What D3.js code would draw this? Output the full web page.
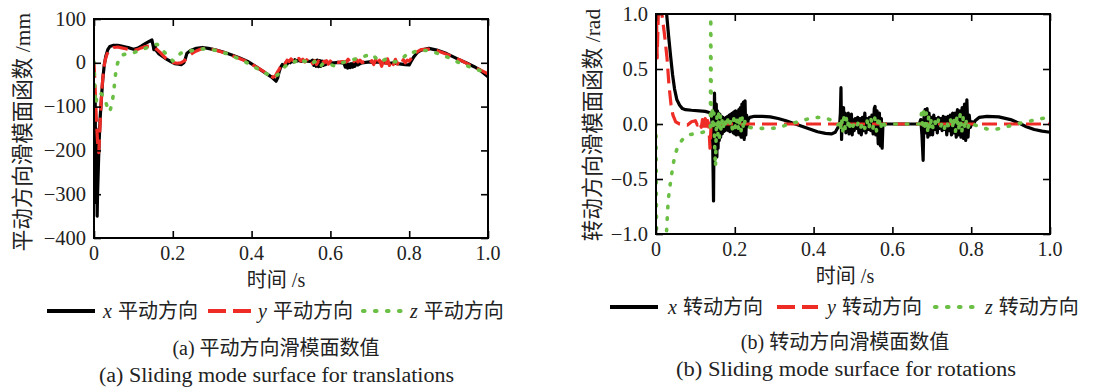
<!DOCTYPE html>
<html><head><meta charset="utf-8">
<script src="https://cdn.jsdelivr.net/npm/d3@7"></script>
<style>
body{margin:0;background:#fff}
svg text{font-family:'Liberation Serif','Noto Sans CJK SC',serif;fill:#222}
</style></head><body>
<svg id="c" width="1096" height="391"></svg>
<script>
// ---------- data ----------
const xTicks=[0,0.2,0.4,0.6,0.8,1.0];
const xTickLabels=["0","0.2","0.4","0.6","0.8","1.0"];
const transTicks=[100,0,-100,-200,-300,-400];
const transTickLabels=["100","0","−100","−200","−300","−400"];
const rotTicks=[1,0.5,0,-0.5,-1];
const rotTickLabels=["1.0","0.5","0.0","−0.5","−1.0"];
const transNames=["平动方向","平动方向","平动方向"];
const rotNames=["转动方向","转动方向","转动方向"];
const axisVars=["x","y","z"];

// translation sliding surface, x direction  [t (s), value (mm)]
const transX=[[0,-60],[0.002,-180],[0.003,-90],[0.004,-260],[0.005,-150],[0.006,-320],[0.007,-200],[0.008,-350],[0.009,-300],[0.011,-240],[0.013,-180],[0.016,-120],[0.019,-80],[0.022,-40],[0.026,-5],[0.03,15],[0.035,30],[0.04,37],[0.05,40],[0.06,40],[0.07,38],[0.08,36],[0.09,34],[0.1,31],[0.11,33],[0.12,38],[0.13,44],[0.14,49],[0.147,52],[0.15,40],[0.152,30],[0.155,38],[0.158,28],[0.165,20],[0.175,14],[0.185,8],[0.195,3],[0.205,-2],[0.215,-3],[0.222,-4],[0.228,0],[0.232,10],[0.236,22],[0.245,28],[0.26,33],[0.275,35],[0.29,33],[0.31,29],[0.33,24],[0.35,18],[0.37,11],[0.39,3],[0.41,-8],[0.43,-20],[0.45,-32],[0.462,-42],[0.466,-35],[0.47,-20],[0.474,-10],[0.478,-4],[0.482,-8],[0.486,0],[0.49,-3],[0.494,3],[0.498,0],[0.502,5],[0.506,2],[0.51,7],[0.515,4],[0.52,6],[0.525,3],[0.53,5],[0.54,4],[0.55,3],[0.555,6],[0.558,-6],[0.561,5],[0.564,-8],[0.567,6],[0.57,-9],[0.573,5],[0.576,-8],[0.579,4],[0.582,-6],[0.585,3],[0.588,-4],[0.592,1],[0.6,0],[0.61,0],[0.62,1],[0.63,0],[0.635,-2],[0.638,-10],[0.641,-2],[0.644,-12],[0.647,-3],[0.65,-11],[0.653,-2],[0.656,-10],[0.659,-1],[0.662,-8],[0.666,0],[0.67,-5],[0.675,-2],[0.68,0],[0.69,1],[0.7,2],[0.71,0],[0.72,2],[0.73,1],[0.74,0],[0.75,-1],[0.76,0],[0.77,-2],[0.78,-3],[0.79,-4],[0.8,-5],[0.806,5],[0.812,14],[0.82,23],[0.83,29],[0.85,33],[0.87,29],[0.895,21],[0.92,10],[0.947,-1],[0.965,-9],[0.98,-17],[1.0,-32]];
// translation sliding surface, y direction
const transY=[[0,0],[0.003,-60],[0.006,-130],[0.009,-180],[0.012,-205],[0.014,-170],[0.017,-110],[0.02,-60],[0.024,-20],[0.028,5],[0.033,20],[0.04,30],[0.05,35],[0.06,36],[0.07,34],[0.08,32],[0.09,30],[0.1,28],[0.11,30],[0.12,34],[0.13,37],[0.14,38],[0.15,36],[0.16,30],[0.17,22],[0.18,12],[0.19,5],[0.2,1],[0.21,-1],[0.22,0],[0.23,5],[0.24,15],[0.25,22],[0.26,27],[0.27,31],[0.28,33],[0.3,31],[0.32,26],[0.34,20],[0.36,13],[0.38,6],[0.4,-3],[0.42,-14],[0.44,-25],[0.455,-33],[0.46,-30],[0.465,-22],[0.47,-15],[0.475,-6],[0.48,2],[0.485,-2],[0.49,6],[0.495,3],[0.5,9],[0.505,5],[0.51,12],[0.515,6],[0.52,10],[0.525,4],[0.53,8],[0.535,2],[0.54,7],[0.545,0],[0.55,6],[0.555,-2],[0.56,5],[0.565,-4],[0.57,4],[0.575,-2],[0.58,6],[0.585,0],[0.59,5],[0.595,-3],[0.6,4],[0.605,-1],[0.61,3],[0.62,1],[0.63,3],[0.64,2],[0.645,8],[0.65,2],[0.655,9],[0.66,3],[0.665,8],[0.67,2],[0.675,6],[0.68,1],[0.69,3],[0.7,-2],[0.705,5],[0.71,-4],[0.715,8],[0.72,-6],[0.725,6],[0.73,-8],[0.735,7],[0.74,-5],[0.745,9],[0.75,-6],[0.755,6],[0.76,-4],[0.765,8],[0.77,-3],[0.775,5],[0.78,-2],[0.785,7],[0.79,0],[0.795,6],[0.8,4],[0.805,10],[0.81,18],[0.82,25],[0.83,30],[0.85,31],[0.87,28],[0.9,18],[0.93,6],[0.96,-8],[0.98,-16],[1.0,-25]];
// translation sliding surface, z direction
const transZ=[[0,2],[0.002,-60],[0.004,-95],[0.007,-80],[0.01,-70],[0.015,-68],[0.02,-72],[0.025,-78],[0.03,-90],[0.035,-105],[0.04,-112],[0.045,-95],[0.05,-68],[0.053,-38],[0.057,-10],[0.062,5],[0.07,17],[0.08,20],[0.09,21],[0.1,23],[0.11,26],[0.12,30],[0.13,33],[0.14,36],[0.15,40],[0.16,42],[0.168,38],[0.175,28],[0.185,18],[0.195,10],[0.2,4],[0.21,10],[0.22,22],[0.23,24],[0.24,26],[0.26,30],[0.28,32],[0.3,30],[0.32,26],[0.34,20],[0.36,12],[0.38,4],[0.4,-6],[0.42,-16],[0.44,-26],[0.455,-30],[0.465,-28],[0.47,-24],[0.475,-20],[0.48,-14],[0.485,-8],[0.49,-6],[0.495,-2],[0.5,0],[0.505,3],[0.51,2],[0.515,6],[0.52,4],[0.525,8],[0.53,5],[0.535,3],[0.54,5],[0.545,2],[0.55,4],[0.555,0],[0.56,3],[0.565,-4],[0.57,-2],[0.575,-8],[0.58,-3],[0.59,-5],[0.6,-4],[0.61,-7],[0.62,-3],[0.63,0],[0.64,3],[0.65,5],[0.66,8],[0.67,10],[0.68,13],[0.69,16],[0.7,18],[0.705,14],[0.71,16],[0.715,11],[0.72,13],[0.725,9],[0.73,11],[0.735,6],[0.74,8],[0.745,4],[0.75,5],[0.76,2],[0.77,3],[0.78,8],[0.79,16],[0.795,22],[0.8,20],[0.81,24],[0.82,27],[0.83,28],[0.85,28],[0.87,22],[0.9,12],[0.92,3],[0.95,-8],[0.98,-18],[1.0,-24]];

// rotation sliding surface, x direction  [t (s), value (rad)]
const rotX=[[0,3.0],[0.015,2.0],[0.027,1.0],[0.032,0.8],[0.037,0.62],[0.042,0.45],[0.047,0.32],[0.053,0.22],[0.06,0.17],[0.067,0.14],[0.075,0.13],[0.09,0.125],[0.11,0.12],[0.125,0.115],[0.135,0.105],[0.14,0.09],[0.142,0.02],[0.144,-0.2],[0.146,-0.7],[0.1475,0.05],[0.1485,0.28],[0.15,-0.05],[0.1515,-0.28],[0.153,0.18],[0.1545,-0.3],[0.156,0.12],[0.1575,-0.22],[0.159,0.1],[0.1605,-0.15],[0.162,0.09],[0.164,-0.12],[0.166,0.07],[0.168,-0.09],[0.17,0.06],[0.172,-0.07],[0.174,0.05],[0.176,-0.06],[0.178,0.06],[0.18,-0.05],[0.182,0.07],[0.184,-0.06],[0.186,0.08],[0.188,-0.07],[0.19,0.09],[0.192,-0.06],[0.194,0.1],[0.196,-0.08],[0.198,0.11],[0.2,-0.09],[0.202,0.12],[0.204,-0.1],[0.206,0.1],[0.208,-0.09],[0.21,0.13],[0.212,-0.1],[0.214,0.15],[0.216,-0.12],[0.218,0.18],[0.22,-0.12],[0.222,0.2],[0.224,-0.14],[0.226,0.21],[0.228,-0.1],[0.23,0.08],[0.232,-0.02],[0.234,0.04],[0.238,0.06],[0.25,0.07],[0.27,0.07],[0.29,0.065],[0.31,0.05],[0.33,0.03],[0.35,0.005],[0.37,-0.02],[0.39,-0.045],[0.41,-0.07],[0.43,-0.085],[0.445,-0.09],[0.455,-0.075],[0.462,-0.03],[0.466,-0.005],[0.468,0.1],[0.4695,0.33],[0.471,-0.14],[0.4725,0.05],[0.474,-0.06],[0.476,0.15],[0.478,-0.04],[0.48,0.1],[0.482,-0.08],[0.484,0.08],[0.486,-0.05],[0.488,0.1],[0.49,-0.09],[0.492,0.06],[0.494,-0.05],[0.496,0.09],[0.498,-0.1],[0.5,0.04],[0.503,-0.06],[0.506,0.05],[0.509,-0.04],[0.512,0.06],[0.515,-0.08],[0.518,0.05],[0.521,-0.1],[0.524,0.06],[0.527,-0.06],[0.53,0.1],[0.533,-0.08],[0.536,0.05],[0.539,-0.05],[0.542,0.06],[0.545,-0.06],[0.548,0.08],[0.551,-0.09],[0.554,0.14],[0.556,0.16],[0.558,-0.1],[0.561,0.12],[0.564,-0.18],[0.567,0.1],[0.57,-0.2],[0.572,0.05],[0.574,-0.22],[0.576,0.0],[0.6,0.0],[0.64,0.0],[0.668,0.0],[0.672,0.04],[0.675,-0.1],[0.678,-0.33],[0.68,0.05],[0.683,0.13],[0.685,-0.08],[0.688,0.14],[0.69,-0.12],[0.693,0.1],[0.696,-0.1],[0.699,0.06],[0.702,-0.1],[0.705,0.08],[0.708,-0.05],[0.711,0.05],[0.714,-0.08],[0.717,0.06],[0.72,-0.04],[0.723,0.05],[0.726,-0.06],[0.729,0.07],[0.732,-0.05],[0.735,0.06],[0.738,-0.1],[0.741,0.07],[0.744,-0.06],[0.747,0.08],[0.75,-0.1],[0.753,0.1],[0.756,-0.08],[0.759,0.1],[0.762,-0.12],[0.765,0.13],[0.768,-0.1],[0.771,0.12],[0.774,-0.12],[0.777,0.15],[0.78,-0.13],[0.783,0.18],[0.786,-0.15],[0.789,0.22],[0.792,-0.12],[0.795,0.08],[0.798,-0.03],[0.802,0.02],[0.806,0.0],[0.81,0.03],[0.82,0.06],[0.84,0.07],[0.87,0.065],[0.9,0.04],[0.92,0.01],[0.94,-0.025],[0.96,-0.05],[0.98,-0.065],[1.0,-0.075]];
// rotation sliding surface, y direction
const rotY=[[0,1.3],[0.003,0.6],[0.008,1.3],[0.015,1.0],[0.022,0.8],[0.028,0.6],[0.033,0.35],[0.038,0.18],[0.043,0.08],[0.05,0.02],[0.06,0.0],[0.08,-0.01],[0.09,0.02],[0.1,0.03],[0.105,-0.01],[0.11,0.02],[0.115,-0.03],[0.118,0.04],[0.122,-0.05],[0.125,0.05],[0.128,-0.05],[0.131,0.03],[0.134,0.0],[0.137,-0.22],[0.14,0.0],[0.3,0.0],[0.5,0.0],[0.7,0.0],[0.9,0.0],[1.0,0.0]];
// rotation sliding surface, z direction
const rotZ=[[0,0],[0.002,-1.5],[0.01,-2.0],[0.02,-1.4],[0.027,-0.96],[0.031,-0.69],[0.036,-0.55],[0.04,-0.45],[0.045,-0.34],[0.05,-0.26],[0.055,-0.21],[0.061,-0.17],[0.07,-0.13],[0.082,-0.1],[0.095,-0.09],[0.112,-0.08],[0.125,-0.07],[0.135,-0.06],[0.138,-0.05],[0.139,0.97],[0.1405,0.05],[0.143,0.12],[0.145,-0.05],[0.147,0.1],[0.149,-0.2],[0.151,-0.39],[0.153,-0.05],[0.155,0.08],[0.157,-0.1],[0.159,0.1],[0.161,-0.12],[0.163,0.08],[0.165,-0.06],[0.168,0.04],[0.171,-0.03],[0.175,0.05],[0.178,-0.02],[0.182,0.04],[0.186,-0.03],[0.19,0.04],[0.194,-0.05],[0.198,0.06],[0.202,-0.05],[0.206,0.05],[0.21,-0.06],[0.213,0.08],[0.216,-0.06],[0.219,0.07],[0.222,-0.05],[0.226,0.03],[0.23,-0.02],[0.235,-0.03],[0.26,-0.04],[0.29,-0.04],[0.31,-0.035],[0.33,-0.01],[0.35,0.01],[0.37,0.03],[0.39,0.05],[0.41,0.06],[0.43,0.055],[0.445,0.035],[0.46,-0.01],[0.465,0.0],[0.468,-0.06],[0.471,0.05],[0.474,-0.07],[0.477,0.06],[0.48,-0.04],[0.483,0.05],[0.486,-0.03],[0.489,0.04],[0.492,-0.02],[0.495,0.03],[0.5,-0.02],[0.505,0.02],[0.51,-0.02],[0.515,0.03],[0.52,-0.03],[0.525,0.02],[0.53,-0.04],[0.535,0.04],[0.54,-0.05],[0.545,0.06],[0.55,-0.05],[0.555,0.06],[0.56,-0.07],[0.565,0.07],[0.57,-0.05],[0.575,0.04],[0.58,-0.01],[0.59,0.0],[0.65,0.0],[0.67,0.0],[0.674,0.1],[0.677,-0.05],[0.68,0.15],[0.683,-0.06],[0.686,0.1],[0.689,-0.08],[0.692,0.07],[0.695,-0.05],[0.699,0.05],[0.703,-0.04],[0.707,0.03],[0.712,-0.03],[0.717,0.04],[0.722,-0.03],[0.727,0.02],[0.732,-0.04],[0.737,0.03],[0.742,-0.02],[0.747,0.05],[0.752,-0.04],[0.756,0.06],[0.76,-0.07],[0.764,0.08],[0.768,-0.06],[0.772,0.09],[0.776,-0.08],[0.78,0.07],[0.784,-0.05],[0.788,0.04],[0.792,-0.03],[0.797,0.02],[0.802,0.0],[0.81,-0.01],[0.82,-0.02],[0.84,-0.045],[0.86,-0.05],[0.88,-0.035],[0.9,-0.015],[0.92,0.005],[0.94,0.02],[0.96,0.035],[0.98,0.05],[1.0,0.06]];

// ---------- drawing ----------
const svg=d3.select("#c");
const COLORS=["#000000","#ee2b25","#6bbf45"];
const STYLES=[
  {w:3.2,dash:null,cap:"butt"},
  {w:3.2,dash:"15,7",cap:"butt"},
  {w:3.6,dash:"1.5,10",cap:"round"}
];

function panel(cfg){
  const g=svg.append("g");
  const x=d3.scaleLinear().domain([0,1]).range([cfg.x0,cfg.x1]);
  const y=d3.scaleLinear().domain(cfg.dom).range([cfg.y1,cfg.y0]);
  const cid="clip"+cfg.id;
  svg.append("clipPath").attr("id",cid).append("rect")
    .attr("x",cfg.x0).attr("y",cfg.y0).attr("width",cfg.x1-cfg.x0).attr("height",cfg.y1-cfg.y0);
  const line=d3.line().x(d=>x(d[0])).y(d=>y(d[1]));
  const lg=g.append("g").attr("clip-path",`url(#${cid})`);
  cfg.series.forEach((s,i)=>{
    lg.append("path").attr("d",line(s)).attr("fill","none")
      .attr("stroke",COLORS[i]).attr("stroke-width",STYLES[i].w)
      .attr("stroke-dasharray",STYLES[i].dash).attr("stroke-linecap",STYLES[i].cap)
      .attr("stroke-linejoin","round");
  });
  const tl=7;
  g.append("g").attr("transform",`translate(0,${cfg.y1})`).call(d3.axisTop(x).tickValues(xTicks).tickSize(tl).tickFormat(""));
  g.append("g").attr("transform",`translate(0,${cfg.y0})`).call(d3.axisBottom(x).tickValues(xTicks).tickSize(tl).tickFormat(""));
  g.append("g").attr("transform",`translate(${cfg.x0},0)`).call(d3.axisRight(y).tickValues(cfg.ticks).tickSize(tl).tickFormat(""));
  g.append("g").attr("transform",`translate(${cfg.x1},0)`).call(d3.axisLeft(y).tickValues(cfg.ticks).tickSize(tl).tickFormat(""));
  g.selectAll(".domain").remove();
  g.selectAll(".tick line").attr("stroke","#000").attr("stroke-width",1.6);
  g.append("rect").attr("x",cfg.x0).attr("y",cfg.y0).attr("width",cfg.x1-cfg.x0).attr("height",cfg.y1-cfg.y0)
    .attr("fill","none").attr("stroke","#000").attr("stroke-width",2);
  // tick labels
  g.selectAll(".xl").data(xTicks).enter().append("text").attr("x",d=>x(d)).attr("y",cfg.y1+22)
    .attr("text-anchor","middle").attr("font-size",20).text((d,i)=>xTickLabels[i]);
  g.selectAll(".yl").data(cfg.ticks).enter().append("text").attr("x",cfg.x0-8).attr("y",d=>y(d)+6.5)
    .attr("text-anchor","end").attr("font-size",20.5).text((d,i)=>cfg.tickLabels[i]);
  // axis titles
  g.append("text").attr("x",cfg.cx).attr("y",cfg.y1+49).attr("text-anchor","middle").attr("font-size",20).text("时间 /s");
  g.append("text").attr("transform",`translate(${cfg.ylx},${cfg.yly}) rotate(-90)`).attr("text-anchor","middle")
    .attr("font-size",21.5).text(cfg.ylabel);
  // legend
  const ly=cfg.legY;
  cfg.leg.forEach((L,i)=>{
    g.append("line").attr("x1",L[0]).attr("x2",L[1]).attr("y1",ly).attr("y2",ly)
      .attr("stroke",COLORS[i]).attr("stroke-width",STYLES[i].w+0.6)
      .attr("stroke-dasharray",i==1?"18,7":(i==2?"1.5,10.5":null)).attr("stroke-linecap",STYLES[i].cap);
    const t=g.append("text").attr("x",L[2]).attr("y",ly+6.5).attr("font-size",20);
    t.append("tspan").attr("font-style","italic").text(axisVars[i]);
    t.append("tspan").attr("dx",6).text(cfg.names[i]);
  });
  // captions
  g.append("text").attr("x",cfg.cx).attr("y",cfg.capY).attr("text-anchor","middle").attr("font-size",20).text(cfg.cap1);
  g.append("text").attr("x",cfg.cx2).attr("y",cfg.capY+27).attr("text-anchor","middle").attr("font-size",20)
    .attr("textLength",cfg.cap2Len).attr("lengthAdjust","spacingAndGlyphs").text(cfg.cap2);
}

panel({id:"a",x0:94,x1:488,y0:19,y1:238,dom:[-400,100],ticks:transTicks,tickLabels:transTickLabels,
  series:[transX,transY,transZ],cx:276,cx2:276.5,ylx:30,yly:132,ylabel:"平动方向滑模面函数 /mm",
  legY:311,leg:[[47,95,103],[208,251,258],[363,402,410]],names:transNames,
  capY:355,cap1:"(a) 平动方向滑模面数值",cap2:"(a) Sliding mode surface for translations",cap2Len:355});
panel({id:"b",x0:656,x1:1050,y0:14,y1:234,dom:[-1,1],ticks:rotTicks,tickLabels:rotTickLabels,
  series:[rotX,rotY,rotZ],cx:845,cx2:846,ylx:600,yly:125,ylabel:"转动方向滑模面函数 /rad",
  legY:307,leg:[[610,658,668],[777,818,827],[935,975,985]],names:rotNames,
  capY:349,cap1:"(b) 转动方向滑模面数值",cap2:"(b) Sliding mode surface for rotations",cap2Len:340});
</script></body></html>
